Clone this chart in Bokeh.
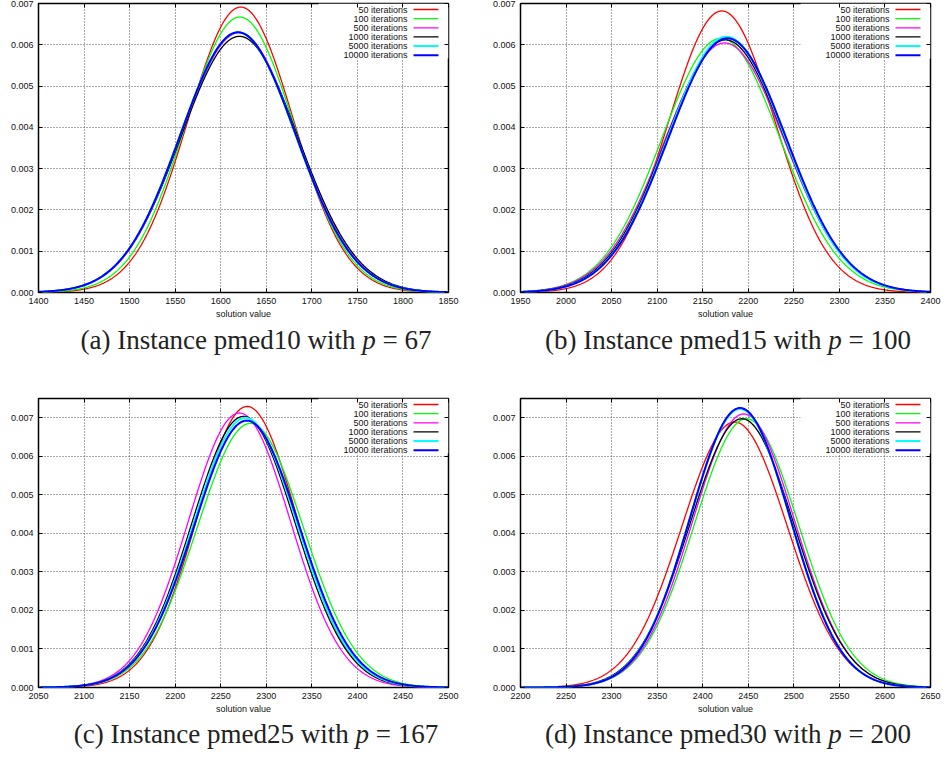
import numpy as np
from bokeh.plotting import figure
from bokeh.models import Range1d, FixedTicker, NumeralTickFormatter, LinearAxis, Div
from bokeh.layouts import row, column
from bokeh.embed import file_html
from bokeh.resources import INLINE
from bokeh.core.properties import value

# ---------------- data ----------------
SERIES = ["50 iterations", "100 iterations", "500 iterations",
          "1000 iterations", "5000 iterations", "10000 iterations"]
COLORS = ["#ff0000", "#00ff00", "#ff00ff", "#000000", "#00ffff", "#0000ff"]
WIDTHS = [1.3, 1.3, 1.3, 1.3, 2.0, 2.0]

# fitted normal distributions of the solution value: mean and standard deviation
# (a) pmed10, p = 67
MEAN_A = [1622.0, 1621.0, 1620.0, 1620.5, 1619.0, 1619.0]
SD_A = [57.7, 59.8, 63.4, 64.3, 63.3, 63.3]
# (b) pmed15, p = 100
MEAN_B = [2171.0, 2170.0, 2174.0, 2175.0, 2176.0, 2177.0]
SD_B = [58.5, 64.8, 66.0, 65.2, 64.4, 64.8]
# (c) pmed25, p = 167
MEAN_C = [2279.0, 2282.5, 2270.5, 2275.0, 2277.0, 2278.5]
SD_C = [54.7, 58.2, 56.0, 56.7, 57.0, 57.6]
# (d) pmed30, p = 200
MEAN_D = [2435.0, 2448.0, 2445.0, 2443.0, 2441.0, 2441.0]
SD_D = [57.9, 57.2, 56.2, 57.2, 55.2, 55.0]

X_RANGES = {"a": (1400, 1850), "b": (1950, 2400), "c": (2050, 2500), "d": (2200, 2650)}
Y_MAX = {"a": 0.007, "b": 0.007, "c": 0.0075, "d": 0.0075}
Y_TICKS = [0.000, 0.001, 0.002, 0.003, 0.004, 0.005, 0.006, 0.007]

CAPTIONS = {
    "a": "(a) Instance pmed10 with <i>p</i> = 67",
    "b": "(b) Instance pmed15 with <i>p</i> = 100",
    "c": "(c) Instance pmed25 with <i>p</i> = 167",
    "d": "(d) Instance pmed30 with <i>p</i> = 200",
}

FRAME_W, FRAME_H = 410, 289
SANS = "Liberation Sans"


def make_panel(key, means, sds, border_left, border_right, width):
    x0, x1 = X_RANGES[key]
    y1 = Y_MAX[key]
    p = figure(width=width, height=322,
               x_range=Range1d(x0, x1), y_range=Range1d(0, y1),
               output_backend="svg", toolbar_location=None,
               min_border_left=border_left, min_border_right=border_right,
               min_border_top=3, min_border_bottom=30)
    p.background_fill_color = "white"
    p.border_fill_color = "white"
    p.outline_line_color = "black"
    p.outline_line_width = 1.5

    xticks = list(range(x0, x1 + 1, 50))
    top_ax = LinearAxis()
    right_ax = LinearAxis()
    p.add_layout(right_ax, "right")
    p.add_layout(top_ax, "above")
    for ax in p.xaxis:
        ax.ticker = FixedTicker(ticks=xticks)
    for ax in p.yaxis:
        ax.ticker = FixedTicker(ticks=Y_TICKS)
        ax.formatter = NumeralTickFormatter(format="0.000")
    for ax in list(p.xaxis) + list(p.yaxis):
        ax.major_tick_in = 4
        ax.major_tick_out = 0
        ax.major_tick_line_color = "black"
        ax.minor_tick_line_color = None
        ax.axis_line_color = None
        ax.major_label_text_font = SANS
        ax.major_label_text_font_size = "9px"
        ax.major_label_text_color = "#111111"
        ax.major_label_standoff = 5
    # mirrored axes: ticks only, no labels drawn
    for ax in (top_ax, right_ax):
        ax.major_label_text_font_size = "0px"
        ax.major_label_text_color = None
        ax.major_label_standoff = 0
    p.below[0].axis_label = "solution value"
    p.below[0].axis_label_text_font = SANS
    p.below[0].axis_label_text_font_size = "9px"
    p.below[0].axis_label_text_font_style = "normal"
    p.below[0].axis_label_text_color = "#111111"
    p.below[0].axis_label_standoff = 2

    p.xgrid.ticker = FixedTicker(ticks=xticks)
    p.ygrid.ticker = FixedTicker(ticks=Y_TICKS)
    p.grid.grid_line_color = "#555555"
    p.grid.grid_line_dash = "1 2"
    p.grid.grid_line_width = 1

    # helpers converting frame pixel offsets to data positions (legend layout)
    def fx(px):
        return x0 + px / FRAME_W * (x1 - x0)

    def fy(py):
        return y1 - py / FRAME_H * y1

    # legend background (hides the grid like gnuplot's key box)
    p.quad(left=[fx(280)], right=[x1], bottom=[fy(55)], top=[y1],
           fill_color="white", line_color=None)

    xs = np.linspace(x0, x1, 600)
    for name, mu, sd, col, lw in zip(SERIES, means, sds, COLORS, WIDTHS):
        ys = np.exp(-0.5 * ((xs - mu) / sd) ** 2) / (sd * np.sqrt(2 * np.pi))
        p.line(xs, ys, line_color=col, line_width=lw)

    # legend (text right aligned, sample line on the right)
    rows_y = [fy(6 + 9.15 * i) for i in range(len(SERIES))]
    p.text(x=[fx(369)] * len(SERIES), y=rows_y, text=SERIES,
           text_align="right", text_baseline="middle",
           text_font=value(SANS), text_font_size="9px", text_color="#111111")
    p.segment(x0=[fx(375)] * len(SERIES), y0=rows_y,
              x1=[fx(400)] * len(SERIES), y1=rows_y,
              line_color=COLORS, line_width=WIDTHS)
    return p


def caption(html, width, height, pad_left, pad_top):
    style = ("width:%dpx;box-sizing:border-box;padding-left:%dpx;padding-top:%dpx;"
             "margin:0;text-align:center;font-family:'Liberation Serif';font-size:27px;"
             "line-height:30px;color:#222222;white-space:nowrap;") % (width, pad_left, pad_top)
    return Div(text='<div style="%s">%s</div>' % (style, html), width=width, height=height,
               margin=0)


pa = make_panel("a", MEAN_A, SD_A, 38, 29, 477)
pb = make_panel("b", MEAN_B, SD_B, 43, 17, 470)
pc = make_panel("c", MEAN_C, SD_C, 38, 29, 477)
pd = make_panel("d", MEAN_D, SD_D, 43, 17, 470)

ca = caption(CAPTIONS["a"], 477, 73, 35, 3)
cb = caption(CAPTIONS["b"], 470, 73, 32, 3)
cc = caption(CAPTIONS["c"], 477, 41, 35, 2)
cd = caption(CAPTIONS["d"], 470, 41, 32, 2)

layout = column(row(pa, pb, spacing=0), row(ca, cb, spacing=0),
                row(pc, pd, spacing=0), row(cc, cd, spacing=0), spacing=0)

open("out.html", "w").write(file_html(layout, INLINE))
